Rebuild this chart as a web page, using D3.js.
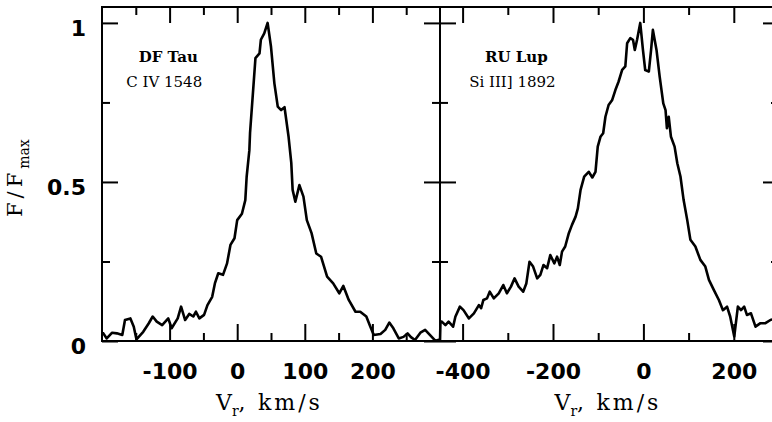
<!DOCTYPE html>
<html>
<head>
<meta charset="utf-8">
<script src="https://cdn.jsdelivr.net/npm/d3@7"></script>
<style>
  body { margin: 0; background: #fff; }
  svg { display: block; }
</style>
</head>
<body>
<script>
// ---- data ----
const dfTauV = [-200,-198,-193,-185,-178,-170,-166,-158,-153,-149,-139,-131,-125,-119,-111,-102,-97,-88,-83,-77,-71,-65,-61,-56,-49,-44,-37,-33,-28,-21,-15,-10,-4,0,7,12,14,18,19,27,33,35,40,45,50,55,60,65,70,76,80,82,86,92,98,103,110,117,124,133,142,151,157,165,175,182,191,197,202,212,219,225,231,239,246,252,257,263,271,278,285,293,300];
const dfTauF = [0.025,0.024,0.008,0.026,0.024,0.019,0.066,0.071,0.045,0.005,0.029,0.055,0.077,0.061,0.050,0.071,0.040,0.071,0.108,0.066,0.085,0.077,0.092,0.071,0.082,0.113,0.139,0.181,0.213,0.208,0.244,0.302,0.323,0.38,0.40,0.443,0.517,0.60,0.654,0.889,0.904,0.947,0.967,1.0,0.925,0.81,0.737,0.726,0.735,0.642,0.56,0.475,0.438,0.49,0.454,0.38,0.339,0.275,0.265,0.202,0.181,0.15,0.173,0.129,0.092,0.092,0.077,0.045,0.019,0.022,0.035,0.058,0.040,0.008,0.013,0.024,0.012,0.003,0.026,0.035,0.019,0.001,0.005];

const ruLupV = [-450,-449,-446,-438,-431,-421,-416,-406,-398,-386,-375,-364,-359,-354,-346,-340,-331,-320,-310,-302,-293,-285,-276,-266,-259,-252,-244,-235,-228,-221,-213,-206,-197,-191,-185,-180,-173,-165,-158,-150,-145,-139,-131,-121,-113,-106,-101,-95,-89,-84,-77,-69,-62,-55,-47,-40,-36,-29,-23,-19,-14,-7,-1,4,12,17,21,29,36,44,49,52,56,61,69,75,82,89,97,104,115,126,137,145,156,167,176,185,192,201,209,216,223,229,238,248,259,270,281,290,300];
const ruLupF = [0.0,0.06,0.061,0.05,0.061,0.045,0.076,0.108,0.097,0.071,0.087,0.113,0.103,0.129,0.134,0.155,0.134,0.150,0.176,0.150,0.171,0.197,0.171,0.155,0.181,0.249,0.234,0.197,0.208,0.239,0.229,0.270,0.244,0.265,0.239,0.281,0.297,0.339,0.365,0.391,0.417,0.475,0.517,0.532,0.514,0.532,0.611,0.642,0.653,0.705,0.742,0.758,0.789,0.815,0.852,0.863,0.936,0.952,0.947,0.915,0.947,1.0,0.915,0.852,0.847,0.915,0.978,0.915,0.831,0.747,0.726,0.669,0.705,0.642,0.611,0.559,0.517,0.443,0.380,0.318,0.297,0.255,0.234,0.192,0.160,0.129,0.097,0.108,0.077,0.014,0.108,0.097,0.108,0.082,0.087,0.045,0.056,0.056,0.066,0.07,0.07];

const yMajor = [0, 0.5, 1];
const yMinor = [0.25, 0.75];
const leftMajor = [-100, 0, 100, 200];
const leftMinor = [-150, -50, 50, 150, 250];
const rightMajor = [-400, -200, 0, 200];
const rightMinor = [-300, -100, 100];
const leftTitle = ["DF Tau", "C IV 1548"];
const rightTitle = ["RU Lup", "Si III] 1892"];

// ---- layout ----
const W = 772, H = 422;
const svg = d3.select("body").append("svg").attr("width", W).attr("height", H);

const y = d3.scaleLinear().domain([0, 1.05]).range([341, 7]);
const xL = d3.scaleLinear().domain([-200, 300]).range([102, 440]);
const xR = d3.scaleLinear().domain([-450, 300]).range([440, 779]);

const tickFont = g => g.selectAll("text")
  .attr("font-family", "'DejaVu Sans', sans-serif")
  .attr("font-weight", "bold")
  .attr("font-size", 22)
  .attr("fill", "#000");
const styleTicks = g => { g.select(".domain").remove(); g.selectAll("line").attr("stroke", "#000").attr("stroke-width", 2); };

function xAxes(scale, major, minor) {
  svg.append("g").attr("transform", "translate(0,341)")
    .call(d3.axisBottom(scale).tickValues(major).tickSize(-17).tickPadding(22).tickFormat(d => String(d)))
    .call(styleTicks).call(tickFont);
  svg.append("g").attr("transform", "translate(0,341)")
    .call(d3.axisBottom(scale).tickValues(minor).tickSize(-8).tickFormat(""))
    .call(styleTicks);
  svg.append("g").attr("transform", "translate(0,7)")
    .call(d3.axisTop(scale).tickValues(major).tickSize(-16).tickFormat(""))
    .call(styleTicks);
  svg.append("g").attr("transform", "translate(0,7)")
    .call(d3.axisTop(scale).tickValues(minor).tickSize(-8).tickFormat(""))
    .call(styleTicks);
}
xAxes(xL, leftMajor, leftMinor);
xAxes(xR, rightMajor, rightMinor);

// left y axis with labels
svg.append("g").attr("transform", "translate(102,0)")
  .call(d3.axisLeft(y).tickValues(yMajor).tickSize(-16).tickPadding(16).tickFormat(d => String(d)))
  .call(styleTicks).call(tickFont)
  .call(g => g.selectAll("text").attr("dy", "0.55em"));
svg.append("g").attr("transform", "translate(102,0)")
  .call(d3.axisLeft(y).tickValues(yMinor).tickSize(-8).tickFormat(""))
  .call(styleTicks);
// divider: ticks on both sides
[[yMajor, 16], [yMinor, 8]].forEach(([vals, len]) => {
  svg.append("g").attr("transform", "translate(440,0)")
    .call(d3.axisLeft(y).tickValues(vals).tickSize(len).tickFormat("")).call(styleTicks);
  svg.append("g").attr("transform", "translate(440,0)")
    .call(d3.axisRight(y).tickValues(vals).tickSize(len).tickFormat("")).call(styleTicks);
  svg.append("g").attr("transform", "translate(779,0)")
    .call(d3.axisRight(y).tickValues(vals).tickSize(-len).tickFormat("")).call(styleTicks);
});

// frame
const frame = svg.append("g").attr("stroke", "#000").attr("stroke-width", 2).attr("fill", "none");
frame.append("rect").attr("x", xL(-200)).attr("y", y(1.05)).attr("width", xR(300) - xL(-200)).attr("height", y(0) - y(1.05));
frame.append("line").attr("x1", xL(300)).attr("x2", xL(300)).attr("y1", y(1.05)).attr("y2", y(0));

// curves
function curve(scale, V, F) {
  const pts = V.map((v, i) => [v, F[i]]);
  svg.append("path").datum(pts)
    .attr("fill", "none").attr("stroke", "#000").attr("stroke-width", 2.6)
    .attr("stroke-linejoin", "round")
    .attr("d", d3.line().x(d => scale(d[0])).y(d => y(d[1])));
}
curve(xL, dfTauV, dfTauF);
curve(xR, ruLupV, ruLupF);

// panel titles
function title(scale, v, lines) {
  const t = svg.append("g").attr("font-family", "'DejaVu Serif', serif").attr("fill", "#000").attr("text-anchor", "middle");
  t.append("text").attr("x", scale(v)).attr("y", y(0.877)).attr("font-size", 15).attr("font-weight", "bold").text(lines[0]);
  t.append("text").attr("x", scale(v) - 4).attr("y", y(0.80)).attr("font-size", 15).text(lines[1]);
}
title(xL, -102, leftTitle);
title(xR, -281, rightTitle);

// x axis titles
function xTitle(scale) {
  const cx = (scale.range()[0] + scale.range()[1]) / 2;
  const t = svg.append("text").attr("x", cx - 55).attr("y", 410)
    .attr("font-family", "'DejaVu Serif', serif").attr("font-size", 22).attr("fill", "#000");
  t.append("tspan").text("V");
  t.append("tspan").attr("font-size", 14).attr("dy", 6).text("r");
  t.append("tspan").attr("dy", -6).text(",");
  t.append("tspan").attr("x", cx - 13).attr("letter-spacing", 3).text("km/s");
}
xTitle(xL);
xTitle(xR);

// y axis title
const yt = svg.append("text").attr("transform", "translate(22,217) rotate(-90)")
  .attr("font-family", "'DejaVu Serif', serif").attr("font-size", 21).attr("fill", "#000");
yt.append("tspan").attr("letter-spacing", 4).text("F/F");
yt.append("tspan").attr("font-size", 14).attr("dy", 7).text("max");
</script>
</body>
</html>
